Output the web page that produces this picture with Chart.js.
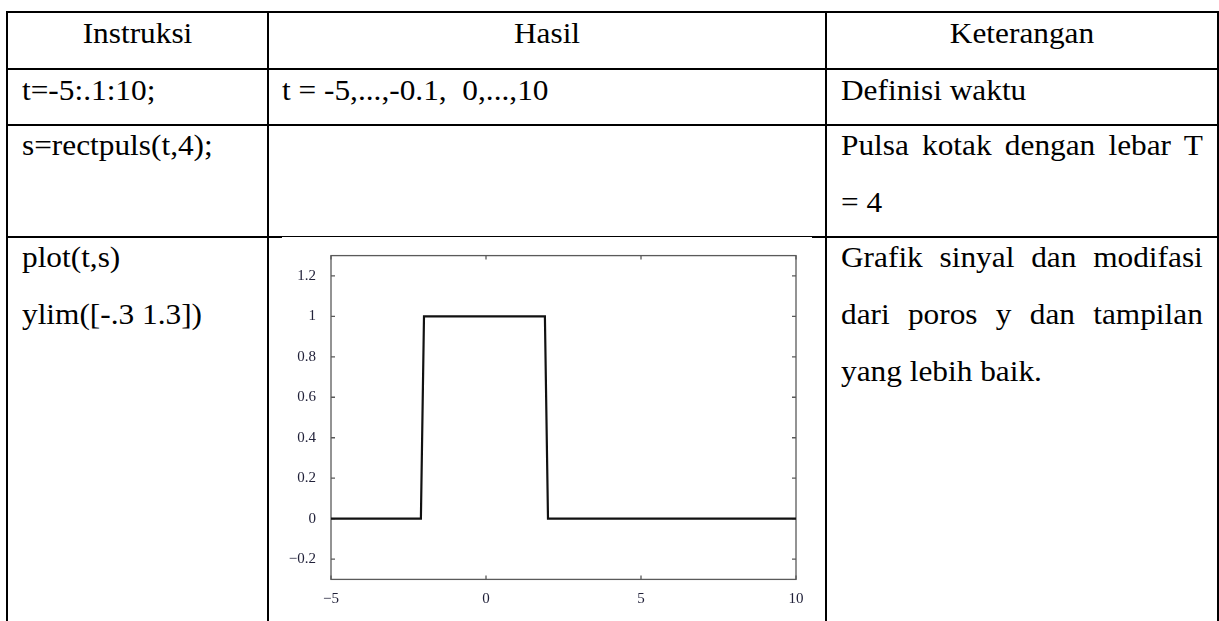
<!DOCTYPE html>
<html>
<head>
<meta charset="utf-8">
<script src="https://cdn.jsdelivr.net/npm/chart.js@4.4.1/dist/chart.umd.min.js"></script>
<style>
  body { margin: 0; background: #fff; width: 1219px; height: 621px; overflow: hidden; position: relative; }
  .ln { position: absolute; background: #000; }
  .tx { position: absolute; font-family: 'Liberation Serif', 'Times New Roman', serif; font-size: 29px; line-height: 29px;
        color: #000; white-space: pre; transform: scaleX(1.08); transform-origin: left center; }
  .ctr { text-align: center; transform-origin: center center; }
  .jus { text-align: justify; text-align-last: justify; white-space: normal; }
  #plotBox { position: absolute; left: 282px; top: 238px; width: 530px; height: 383px; }
</style>
</head>
<body>

<!-- table grid -->
<div class="ln" style="left:6px; top:11px; width:1213px; height:2px"></div>
<div class="ln" style="left:6px; top:68px; width:1213px; height:2px"></div>
<div class="ln" style="left:6px; top:124px; width:1213px; height:2px"></div>
<div class="ln" style="left:6px; top:236px; width:276px; height:2px"></div>
<div class="ln" style="left:282px; top:236px; width:530px; height:1px"></div>
<div class="ln" style="left:812px; top:236px; width:407px; height:2px"></div>
<div class="ln" style="left:6px; top:11px; width:2px; height:610px"></div>
<div class="ln" style="left:267px; top:11px; width:2px; height:610px"></div>
<div class="ln" style="left:825px; top:11px; width:2px; height:610px"></div>
<div class="ln" style="left:1217px; top:11px; width:2px; height:610px"></div>

<!-- header -->
<div class="tx ctr" style="left:7px; width:261px; top:19px">Instruksi</div>
<div class="tx ctr" style="left:268px; width:558px; top:19px">Hasil</div>
<div class="tx ctr" style="left:826px; width:392px; top:19px">Keterangan</div>

<!-- row 2 -->
<div class="tx" style="left:22px; top:76px">t=-5:.1:10;</div>
<div class="tx" style="left:282px; top:76px">t = -5,...,-0.1,&nbsp; 0,...,10</div>
<div class="tx" style="left:841px; top:76px">Definisi waktu</div>

<!-- row 3 -->
<div class="tx" style="left:22px; top:131px">s=rectpuls(t,4);</div>
<div class="tx jus" style="left:841px; width:335px; top:131px">Pulsa kotak dengan lebar T</div>
<div class="tx" style="left:841px; top:188px">= 4</div>

<!-- row 4 -->
<div class="tx" style="left:22px; top:243px">plot(t,s)</div>
<div class="tx" style="left:22px; top:300px">ylim([-.3 1.3])</div>
<div class="tx jus" style="left:841px; width:335px; top:243px">Grafik sinyal dan modifasi</div>
<div class="tx jus" style="left:841px; width:335px; top:300px">dari poros y dan tampilan</div>
<div class="tx" style="left:841px; top:357px">yang lebih baik.</div>

<div id="plotBox"><canvas id="pulse"></canvas></div>

<script>
// rectpuls(t,4) for t = -5:.1:10, corner points of the plotted line
const tValues = [-5, -2.1, -2, 1.9, 2, 10];
const sValues = [0, 0, 1, 1, 0, 0];
const xTicks = [-5, 0, 5, 10];
const yTicks = [-0.2, 0, 0.2, 0.4, 0.6, 0.8, 1, 1.2];

const fmt = v => String(v).replace('-', '\u2212');

// box around the plot with short inward ticks on all four sides
const boxTicks = {
  id: 'boxTicks',
  beforeDatasetsDraw(chart) {
    const { ctx, chartArea: a, scales } = chart;
    const len = 4;
    ctx.save();
    ctx.strokeStyle = '#5a5a5a';
    ctx.lineWidth = 1.3;
    ctx.strokeRect(a.left, a.top, a.right - a.left, a.bottom - a.top);
    ctx.beginPath();
    scales.y.ticks.forEach(t => {
      const y = scales.y.getPixelForValue(t.value);
      ctx.moveTo(a.left, y); ctx.lineTo(a.left + len, y);
      ctx.moveTo(a.right - len, y); ctx.lineTo(a.right, y);
    });
    scales.x.ticks.forEach(t => {
      const x = scales.x.getPixelForValue(t.value);
      ctx.moveTo(x, a.bottom); ctx.lineTo(x, a.bottom - len);
      ctx.moveTo(x, a.top); ctx.lineTo(x, a.top + len);
    });
    ctx.stroke();
    ctx.restore();
  }
};

const tickFont = { family: "'Liberation Serif', serif", size: 15 };

new Chart(document.getElementById('pulse').getContext('2d'), {
  type: 'line',
  data: {
    datasets: [{
      data: tValues.map((t, i) => ({ x: t, y: sValues[i] })),
      borderColor: '#111',
      borderWidth: 2.2,
      pointRadius: 0,
      tension: 0,
      fill: false
    }]
  },
  options: {
    responsive: true,
    maintainAspectRatio: false,
    animation: false,
    layout: { padding: { top: 17.6, right: 16, left: 0, bottom: 0 } },
    plugins: { legend: { display: false }, tooltip: { enabled: false } },
    scales: {
      x: {
        type: 'linear',
        min: -5,
        max: 10,
        grid: { display: false },
        border: { display: false },
        afterBuildTicks: s => { s.ticks = xTicks.map(v => ({ value: v })); },
        afterFit: s => { s.height = 41.6; },
        ticks: { color: '#22223a', font: tickFont, padding: 3, maxRotation: 0, callback: v => fmt(v) }
      },
      y: {
        min: -0.3,
        max: 1.3,
        grid: { display: false },
        border: { display: false },
        afterBuildTicks: s => { s.ticks = yTicks.map(v => ({ value: v })); },
        afterFit: s => { s.width = 49; },
        ticks: { color: '#22223a', font: tickFont, padding: 7, callback: v => fmt(v) }
      }
    }
  },
  plugins: [boxTicks]
});
</script>
</body>
</html>
